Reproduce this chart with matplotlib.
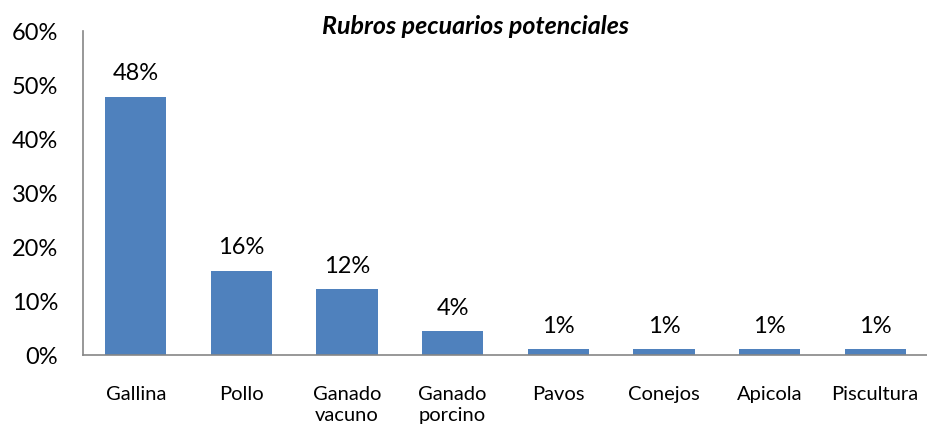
import matplotlib
matplotlib.use("Agg")
import matplotlib.pyplot as plt
from matplotlib.ticker import FuncFormatter

categories = ["Gallina", "Pollo", "Ganado\nvacuno", "Ganado\nporcino", "Pavos", "Conejos", "Apicola", "Piscultura"]
values = [0.478, 0.156, 0.122, 0.044, 0.011, 0.011, 0.011, 0.011]
labels = ["48%", "16%", "12%", "4%", "1%", "1%", "1%", "1%"]
yticks = [0, 0.1, 0.2, 0.3, 0.4, 0.5, 0.6]
title = "Rubros pecuarios potenciales"

plt.rcParams['font.family'] = ['Lato', 'DejaVu Sans']

fig = plt.figure(figsize=(9.28, 4.25), dpi=100)
ax = fig.add_axes([83/928, 1 - 355/425, (928 - 83)/928, (355 - 31)/425])
x = range(len(categories))
bars = ax.bar(x, values, width=0.58, color="#4F81BD")
for xi, v, lab in zip(x, values, labels):
    ax.annotate(lab, (xi, v), xytext=(0, 9), textcoords="offset points",
                ha="center", va="bottom", fontsize=17)
ax.set_xlim(-0.5, len(categories) - 0.5)
ax.set_ylim(0, 0.6)
ax.set_yticks(yticks)
ax.yaxis.set_major_formatter(FuncFormatter(lambda v, p: f"{v*100:.0f}%"))
ax.set_xticks(list(x))
ax.set_xticklabels(categories, fontsize=14.5, va="top", linespacing=1.3)
ax.tick_params(axis="x", length=0, pad=22)
ax.tick_params(axis="y", length=0, labelsize=17, pad=18)
for s in ["top", "right"]:
    ax.spines[s].set_visible(False)
ax.spines["left"].set_color("#868686")
ax.spines["bottom"].set_color("#868686")
ax.spines["left"].set_linewidth(1.2)
ax.spines["bottom"].set_linewidth(1.2)
fig.text(476/928, 1 - 27/425, title, ha="center", va="center", fontsize=18,
         fontweight="bold", fontstyle="italic")
fig.savefig("out.png", dpi=100)
